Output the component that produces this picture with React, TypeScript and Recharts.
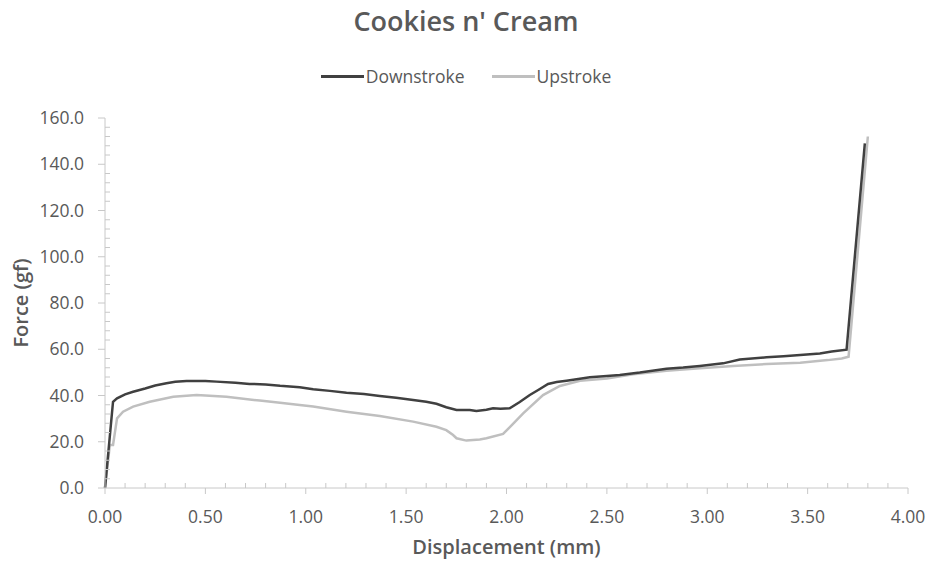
import { LineChart, Line, XAxis, YAxis } from 'recharts';

const title = "Cookies n' Cream";
const seriesNames = ['Downstroke', 'Upstroke'];
const seriesColors = ['#404040', '#bfbfbf'];

// Downstroke curve (displacement mm, force gf)
const downstrokeX = [
  0, 0.04, 0.06, 0.1, 0.14, 0.2, 0.25, 0.306, 0.35, 0.406, 0.5, 0.555, 0.65, 0.72, 0.8,
  0.872, 0.97, 1.037, 1.12, 1.203, 1.29, 1.369, 1.45, 1.535, 1.6, 1.651, 1.7, 1.751,
  1.817, 1.85, 1.9, 1.933, 1.97, 2.016, 2.066, 2.116, 2.16, 2.207, 2.25, 2.299, 2.415,
  2.5, 2.564, 2.664, 2.797, 2.88, 2.963, 3.079, 3.162, 3.295, 3.38, 3.463, 3.561, 3.62,
  3.694, 3.785,
];
const downstrokeY = [
  0, 37.3, 38.8, 40.5, 41.6, 43.0, 44.3, 45.3, 45.9, 46.3, 46.3, 46.0, 45.5, 45.0, 44.8,
  44.2, 43.6, 42.7, 42.0, 41.2, 40.6, 39.8, 39.0, 38.1, 37.3, 36.4, 34.9, 33.7,
  33.7, 33.3, 33.8, 34.5, 34.3, 34.5, 37.2, 40.2, 42.5, 45.0, 45.8, 46.4, 47.9,
  48.4, 48.9, 49.9, 51.6, 52.1, 52.8, 53.9, 55.6, 56.5, 57.0, 57.5, 58.2, 59.0,
  59.8, 149.0,
];

// Upstroke curve
const upstrokeX = [
  0, 0.024, 0.04, 0.06, 0.09, 0.14, 0.223, 0.34, 0.456, 0.5, 0.605, 0.771, 0.872, 0.97,
  1.037, 1.203, 1.369, 1.535, 1.651, 1.7, 1.734, 1.751, 1.8, 1.867, 1.9, 1.983, 2.03,
  2.083, 2.182, 2.266, 2.366, 2.5, 2.631, 2.797, 2.963, 3.129, 3.295, 3.463, 3.6, 3.67,
  3.704, 3.8,
];
const upstrokeY = [
  0, 18.6, 18.6, 30.1, 33.0, 35.2, 37.3, 39.5, 40.2, 40.0, 39.5, 37.8, 36.9, 35.9,
  35.2, 33.0, 31.1, 28.7, 26.5, 25.0, 22.9, 21.5, 20.5, 21.0, 21.5, 23.4, 27.5,
  32.3, 40.2, 44.1, 46.4, 47.4, 49.2, 50.7, 51.8, 52.8, 53.6, 54.2, 55.3, 56.0,
  56.8, 152.0,
];

const xMajorTicks = [0, 0.5, 1, 1.5, 2, 2.5, 3, 3.5, 4];
const yMajorTicks = [0, 20, 40, 60, 80, 100, 120, 140, 160];

const downstroke = downstrokeX.map((x, i) => ({ x, y: downstrokeY[i] }));
const upstroke = upstrokeX.map((x, i) => ({ x, y: upstrokeY[i] }));

// 4 minor ticks between every pair of major ticks
const withMinor = (majors: number[]) => {
  const out: number[] = [];
  majors.forEach((m, i) => {
    out.push(m);
    if (i < majors.length - 1) {
      const step = (majors[i + 1] - m) / 5;
      for (let k = 1; k < 5; k++) out.push(+(m + step * k).toFixed(4));
    }
  });
  return out;
};
const xTicks = withMinor(xMajorTicks);
const yTicks = withMinor(yMajorTicks);

const AXIS = '#c8c8c8';
const TEXT = '#595959';
const FONT = '"Open Sans", "Noto Sans", sans-serif';

const isMajor = (v: number, majors: number[]) => majors.some((t) => Math.abs(t - v) < 1e-6);

function XTick({ x, y, payload }: any) {
  const major = isMajor(payload.value, xMajorTicks);
  return (
    <g>
      <line x1={x} x2={x} y1={y} y2={major ? y + 6 : y - 5} stroke={AXIS} />
      {major && (
        <text x={x} y={y + 35} textAnchor="middle" fill={TEXT} fontSize={17.5} fontFamily={FONT}>
          {payload.value.toFixed(2)}
        </text>
      )}
    </g>
  );
}

function YTick({ x, y, payload }: any) {
  const major = isMajor(payload.value, yMajorTicks);
  return (
    <g>
      <line x1={x} x2={major ? x - 7 : x + 5} y1={y} y2={y} stroke={AXIS} />
      {major && (
        <text x={x - 21} y={y + 6} textAnchor="end" fill={TEXT} fontSize={17.5} fontFamily={FONT}>
          {payload.value.toFixed(1)}
        </text>
      )}
    </g>
  );
}

export default function App() {
  return (
    <div style={{ position: 'absolute', left: 0, top: 0, width: 932, height: 562, background: '#fff', fontFamily: FONT }}>
      <div
        style={{
          position: 'absolute', top: 7, left: 0, width: 932, textAlign: 'center',
          fontSize: 27, lineHeight: '27px', fontWeight: 600, color: TEXT,
        }}
      >
        {title}
      </div>
      <div
        style={{
          position: 'absolute', top: 66, left: 0, width: 932, display: 'flex',
          justifyContent: 'center', gap: 27, fontSize: 17.5, lineHeight: '20px', color: TEXT,
        }}
      >
        {seriesNames.map((name, i) => (
          <div key={name} style={{ display: 'flex', alignItems: 'center' }}>
            <span style={{ display: 'inline-block', width: 43, height: 3, background: seriesColors[i], marginRight: 2 }} />
            <span>{name}</span>
          </div>
        ))}
      </div>
      <LineChart width={932} height={562} margin={{ top: 118, right: 24, bottom: 0, left: 0 }}>
        <XAxis
          dataKey="x"
          type="number"
          domain={[0, 4]}
          ticks={xTicks}
          interval={0}
          tickSize={0}
          tickMargin={0}
          tickLine={false}
          tick={<XTick />}
          axisLine={{ stroke: AXIS }}
          height={74}
          label={{
            value: 'Displacement (mm)', position: 'insideBottom', offset: 8,
            fill: TEXT, fontSize: 20, fontWeight: 600, fontFamily: FONT,
          }}
        />
        <YAxis
          type="number"
          domain={[0, 160]}
          ticks={yTicks}
          interval={0}
          tickSize={0}
          tickMargin={0}
          tickLine={false}
          tick={<YTick />}
          axisLine={{ stroke: AXIS }}
          width={105}
          label={{
            value: 'Force (gf)', angle: -90, position: 'insideLeft', offset: 21,
            style: { textAnchor: 'middle' },
            fill: TEXT, fontSize: 20, fontWeight: 600, fontFamily: FONT,
          }}
        />
        <Line
          data={upstroke}
          dataKey="y"
          name={seriesNames[1]}
          type="linear"
          stroke={seriesColors[1]}
          strokeWidth={2.5}
          dot={false}
          isAnimationActive={false}
        />
        <Line
          data={downstroke}
          dataKey="y"
          name={seriesNames[0]}
          type="linear"
          stroke={seriesColors[0]}
          strokeWidth={2.5}
          dot={false}
          isAnimationActive={false}
        />
      </LineChart>
    </div>
  );
}
